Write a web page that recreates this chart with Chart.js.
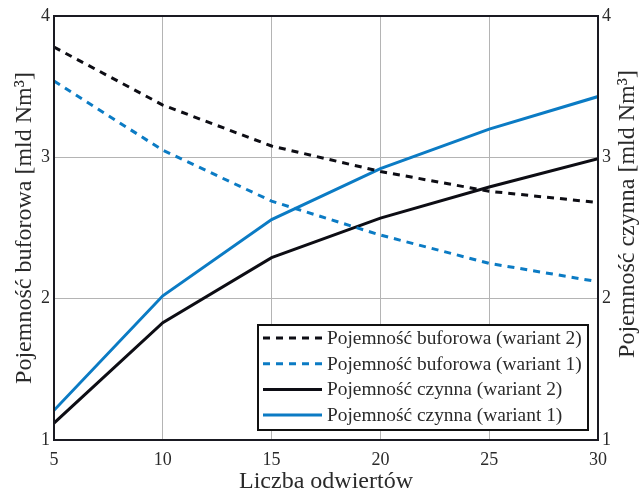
<!DOCTYPE html>
<html>
<head>
<meta charset="utf-8">
<script src="https://cdn.jsdelivr.net/npm/chart.js@4"></script>
<style>
  body { margin: 0; background: #fff; }
  #wrap { width: 639px; height: 490px; }
</style>
</head>
<body>
<div id="wrap"><canvas id="wykres"></canvas></div>
<script>
// liczba odwiertow
const odwierty = [5, 10, 15, 20, 25, 30];
// pojemnosci [mld Nm3]
const buforowaW2 = [3.78, 3.37, 3.08, 2.90, 2.76, 2.68];
const buforowaW1 = [3.54, 3.05, 2.69, 2.45, 2.25, 2.12];
const czynnaW2 = [1.12, 1.83, 2.29, 2.57, 2.79, 2.99];
const czynnaW1 = [1.21, 2.02, 2.56, 2.92, 3.20, 3.43];
const xTicks = [5, 10, 15, 20, 25, 30];
const yTicks = [1, 2, 3, 4];

const NIEBIESKI = '#0b7bc4';
const CZARNY = '#0d0d14';
const FONT = '"Liberation Serif", "Times New Roman", serif';
const TEKST = '#2a2a2a';

function punkty(wartosci) {
    return odwierty.map((x, i) => ({ x: x, y: wartosci[i] }));
}

// ramka wykresu, tytul prawej osi i legenda wewnatrz
const ramka = {
    id: 'ramka',
    afterDraw(chart) {
        const ctx = chart.ctx;
        const a = chart.chartArea;
        ctx.save();
        ctx.strokeStyle = '#1a1a22';
        ctx.lineWidth = 2;
        ctx.strokeRect(a.left, a.top, a.right - a.left, a.bottom - a.top);

        // tytul prawej osi (czytany od dolu, jak lewy)
        ctx.save();
        ctx.translate(628, 214);
        ctx.rotate(-Math.PI / 2);
        ctx.font = '24px ' + FONT;
        ctx.fillStyle = TEKST;
        ctx.textAlign = 'center';
        ctx.textBaseline = 'middle';
        ctx.fillText('Pojemność czynna [mld Nm³]', 0, 0);
        ctx.restore();

        // legenda
        const lx = 258, ly = 325, lw = 330, lh = 105;
        ctx.fillStyle = '#fff';
        ctx.fillRect(lx, ly, lw, lh);
        ctx.strokeStyle = '#111';
        ctx.lineWidth = 2;
        ctx.strokeRect(lx, ly, lw, lh);
        ctx.font = '19.4px ' + FONT;
        ctx.textBaseline = 'middle';
        chart.data.datasets.forEach((ds, i) => {
            const y = ly + 13 + i * 25.7;
            ctx.beginPath();
            ctx.strokeStyle = ds.borderColor;
            ctx.lineWidth = 3;
            ctx.setLineDash(ds.borderDash || []);
            ctx.moveTo(lx + 5, y);
            ctx.lineTo(lx + 64, y);
            ctx.stroke();
            ctx.setLineDash([]);
            ctx.fillStyle = TEKST;
            ctx.fillText(ds.label, lx + 69, y + 1);
        });
        ctx.restore();
    }
};

const tickFont = { family: FONT, size: 18 };
const titleFont = { family: FONT, size: 24, lineHeight: 0.7 };

new Chart(document.getElementById('wykres'), {
    type: 'line',
    data: {
        datasets: [
            { label: 'Pojemność buforowa (wariant 2)', data: punkty(buforowaW2), borderColor: CZARNY, borderDash: [7, 6], yAxisID: 'y' },
            { label: 'Pojemność buforowa (wariant 1)', data: punkty(buforowaW1), borderColor: NIEBIESKI, borderDash: [7, 6], yAxisID: 'y' },
            { label: 'Pojemność czynna (wariant 2)', data: punkty(czynnaW2), borderColor: CZARNY, yAxisID: 'y1' },
            { label: 'Pojemność czynna (wariant 1)', data: punkty(czynnaW1), borderColor: NIEBIESKI, yAxisID: 'y1' }
        ]
    },
    options: {
        responsive: true,
        maintainAspectRatio: false,
        animation: false,
        layout: { padding: { top: 16, left: 0, right: 0, bottom: 0 } },
        elements: {
            point: { radius: 0 },
            line: { borderWidth: 3, tension: 0, fill: false }
        },
        plugins: {
            legend: { display: false },
            tooltip: { enabled: false }
        },
        scales: {
            x: {
                type: 'linear',
                min: 5,
                max: 30,
                afterBuildTicks: (s) => { s.ticks = xTicks.map(v => ({ value: v })); },
                afterFit: (s) => { s.height = 50; },
                grid: { color: '#b4b4b4', lineWidth: 1, drawTicks: false },
                border: { display: false },
                ticks: { font: tickFont, color: TEKST, padding: 9, maxRotation: 0 },
                title: { display: true, text: 'Liczba odwiertów', font: titleFont, color: TEKST, padding: { top: 0, bottom: 0 } }
            },
            y: {
                position: 'left',
                min: 1,
                max: 4,
                afterBuildTicks: (s) => { s.ticks = yTicks.map(v => ({ value: v })); },
                afterFit: (s) => { s.width = 54; },
                grid: { color: '#b4b4b4', lineWidth: 1, drawTicks: false },
                border: { display: false },
                ticks: { font: tickFont, color: TEKST, padding: 4 },
                title: { display: true, text: 'Pojemność buforowa [mld Nm³]', font: titleFont, color: TEKST, padding: { top: 16, bottom: 0 } }
            },
            y1: {
                position: 'right',
                min: 1,
                max: 4,
                afterBuildTicks: (s) => { s.ticks = yTicks.map(v => ({ value: v })); },
                afterFit: (s) => { s.width = 41; },
                grid: { drawOnChartArea: false, drawTicks: false },
                border: { display: false },
                ticks: { font: tickFont, color: TEKST, padding: 4 },
                title: { display: false }
            }
        }
    },
    plugins: [ramka]
});
</script>
</body>
</html>
